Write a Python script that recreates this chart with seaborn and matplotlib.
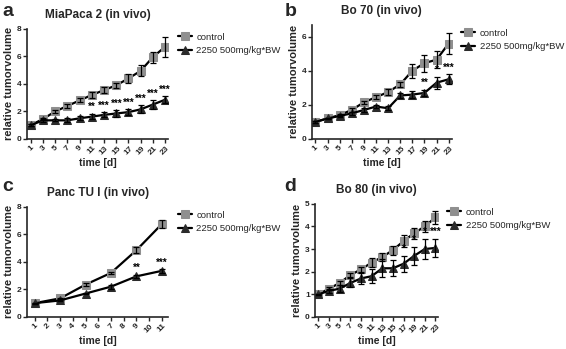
import matplotlib
matplotlib.use("Agg")
import matplotlib.pyplot as plt
import seaborn as sns
import pandas as pd

sns.set_style("ticks")
plt.rcParams['font.family'] = ['Liberation Sans', 'DejaVu Sans']

# ---- data (mean relative tumor volume, SEM) ----
days_long = [1, 3, 5, 7, 9, 11, 13, 15, 17, 19, 21, 23]
days_c = [1, 3, 5, 7, 9, 11]

a_ctrl = [1.0, 1.45, 2.0, 2.4, 2.8, 3.2, 3.55, 3.9, 4.4, 4.95, 5.95, 6.7]
a_ctrl_err = [0.05, 0.08, 0.08, 0.15, 0.15, 0.22, 0.2, 0.2, 0.35, 0.4, 0.4, 0.75]
a_trt = [1.0, 1.35, 1.35, 1.35, 1.5, 1.62, 1.75, 1.85, 1.95, 2.15, 2.5, 2.85]
a_trt_err = [0.05, 0.1, 0.08, 0.15, 0.15, 0.2, 0.18, 0.22, 0.22, 0.3, 0.3, 0.25]
a_stars = ['', '', '', '', '', '**', '***', '***', '***', '***', '***', '***']

b_ctrl = [1.0, 1.2, 1.4, 1.7, 2.15, 2.45, 2.75, 3.2, 4.0, 4.45, 4.65, 5.6]
b_ctrl_err = [0.05, 0.05, 0.07, 0.1, 0.1, 0.12, 0.18, 0.15, 0.4, 0.5, 0.5, 0.6]
b_trt = [1.0, 1.2, 1.35, 1.5, 1.7, 1.9, 1.8, 2.55, 2.6, 2.7, 3.3, 3.5]
b_trt_err = [0.05, 0.05, 0.07, 0.1, 0.1, 0.1, 0.12, 0.15, 0.2, 0.2, 0.35, 0.3]
b_stars = ['', '', '', '', '', '', '', '', '', '**', '*', '***']

c_ctrl = [1.0, 1.35, 2.35, 3.2, 4.85, 6.75]
c_ctrl_err = [0.03, 0.05, 0.1, 0.08, 0.2, 0.3]
c_trt = [1.0, 1.2, 1.7, 2.2, 2.95, 3.35]
c_trt_err = [0.03, 0.05, 0.05, 0.15, 0.1, 0.12]
c_stars = ['', '', '', '', '**', '***']

d_ctrl = [1.0, 1.25, 1.5, 1.85, 2.1, 2.4, 2.65, 2.95, 3.35, 3.7, 4.0, 4.4]
d_ctrl_err = [0.03, 0.05, 0.07, 0.1, 0.12, 0.2, 0.18, 0.2, 0.25, 0.25, 0.25, 0.3]
d_trt = [1.0, 1.15, 1.25, 1.5, 1.7, 1.8, 2.15, 2.15, 2.35, 2.7, 3.0, 3.05]
d_trt_err = [0.03, 0.08, 0.15, 0.2, 0.25, 0.3, 0.4, 0.35, 0.35, 0.4, 0.45, 0.4]
d_stars = ['', '', '', '', '', '', '', '', '*', '*', '*', '***']

labels = ['control', '2250 500mg/kg*BW']
ctrl_color = '#8f8f8f'
trt_color = '#2b2b2b'


def panel(fig, rect, letter, letter_xy, title, days, ticks, ctrl, ctrl_err, trt, trt_err, stars, ymax, yticks):
    ax = fig.add_axes(rect)
    df = pd.DataFrame({'day': days * 2,
                       'vol': ctrl + trt,
                       'group': [labels[0]] * len(days) + [labels[1]] * len(days)})
    sns.lineplot(data=df, x='day', y='vol', hue='group', style='group',
                 markers={labels[0]: 's', labels[1]: '^'}, dashes=False,
                 palette={labels[0]: 'black', labels[1]: 'black'},
                 linewidth=1.6, markersize=5.5, ax=ax)
    ax.errorbar(days, ctrl, yerr=ctrl_err, fmt='none', ecolor='black', elinewidth=0.9, capsize=2.5, capthick=0.9)
    ax.errorbar(days, trt, yerr=trt_err, fmt='none', ecolor='black', elinewidth=0.9, capsize=2.5, capthick=0.9)
    for x, y, e, s in zip(days, trt, trt_err, stars):
        if s:
            ax.text(x, y + e + ymax * 0.015, s, ha='center', va='bottom', fontsize=7, fontweight='bold', color='black')
    ax.set_xlim(days[0] - 0.6, ticks[-1] + 0.5)
    ax.set_ylim(0, ymax)
    ax.set_xticks(ticks)
    ax.set_xticklabels([str(t) for t in ticks], rotation=45, fontsize=6, fontweight='bold')
    ax.set_yticks(yticks)
    ax.set_yticklabels([str(t) for t in yticks], fontsize=6, fontweight='bold')
    ax.tick_params(length=3, width=1, pad=1)
    for sp in ['left', 'bottom']:
        ax.spines[sp].set_linewidth(1.2)
    sns.despine(ax=ax)
    ax.set_xlabel('time [d]', fontsize=7.5, fontweight='bold', labelpad=1)
    ax.set_ylabel('relative tumorvolume', fontsize=8, fontweight='bold', labelpad=2)
    ax.set_title(title, fontsize=8.5, fontweight='bold', pad=8)
    handles, labs = ax.get_legend_handles_labels()
    leg = ax.legend(handles, labs, loc='upper left', bbox_to_anchor=(1.04, 1.0), frameon=False,
                    fontsize=6.8, handlelength=1.5, handletextpad=0.5, borderaxespad=0)
    # grey squares for control, dark triangles for treatment
    for line, col in zip(list(ax.lines[:2]) + list(leg.legend_handles), [ctrl_color, trt_color] * 2):
        line.set_markerfacecolor(col)
        line.set_markeredgecolor(col)
    fig.text(letter_xy[0], letter_xy[1], letter, fontsize=14, fontweight='bold')
    return ax


fig = plt.figure(figsize=(5.66, 3.49), dpi=100)

panel(fig, [0.048, 0.602, 0.249, 0.315], 'a', (0.004, 0.955), 'MiaPaca 2 (in vivo)', days_long, days_long,
      a_ctrl, a_ctrl_err, a_trt, a_trt_err, a_stars, 8, [0, 2, 4, 6, 8])
panel(fig, [0.551, 0.602, 0.247, 0.327], 'b', (0.503, 0.955), 'Bo 70 (in vivo)', days_long, days_long,
      b_ctrl, b_ctrl_err, b_trt, b_trt_err, b_stars, 6.7, [0, 2, 4, 6])
panel(fig, [0.048, 0.092, 0.249, 0.315], 'c', (0.004, 0.452), 'Panc TU I (in vivo)', days_c, list(range(1, 12)),
      c_ctrl, c_ctrl_err, c_trt, c_trt_err, c_stars, 8, [0, 2, 4, 6, 8])
panel(fig, [0.557, 0.092, 0.217, 0.324], 'd', (0.503, 0.452), 'Bo 80 (in vivo)', days_long, days_long,
      d_ctrl, d_ctrl_err, d_trt, d_trt_err, d_stars, 5, [0, 1, 2, 3, 4, 5])

fig.savefig('out.png', dpi=100)
